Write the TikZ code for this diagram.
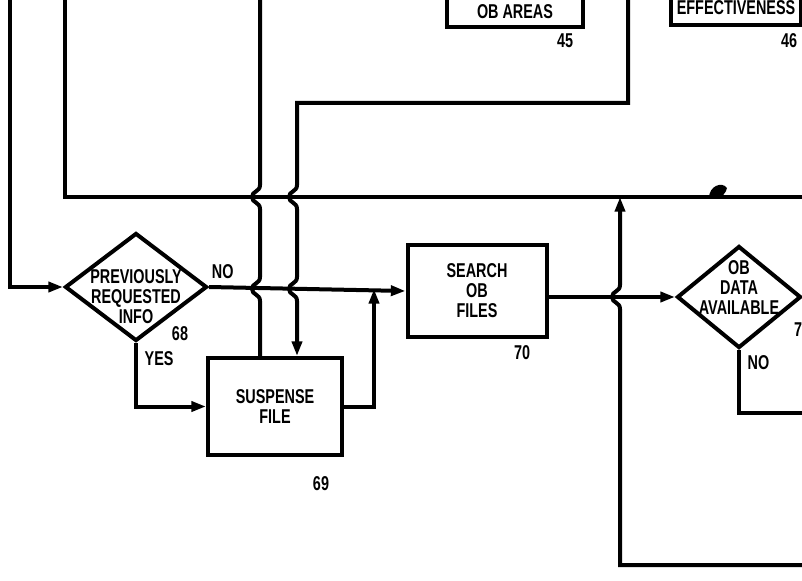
\documentclass[tikz,border=0pt]{standalone}
\usepackage{fontspec}
\setmainfont{Liberation Sans}[FakeStretch=0.72]
\usetikzlibrary{arrows.meta, positioning, shapes.geometric}

\begin{document}
\begin{tikzpicture}[
  x=0.75pt, y=-0.75pt,
  every node/.style={font=\bfseries\fontsize{15}{15}\selectfont},
  decision/.style={diamond, draw, line width=3pt, inner sep=0pt},
  process/.style={rectangle, draw, line width=3pt, inner sep=0pt,
                  align=center},
  tag/.style={inner sep=0pt},
  flow/.style={line width=3pt},
  arr/.style={flow, -{Triangle[length=11pt, width=7.5pt]}},
  hop/.style 2 args={insert path={-- (#1,#2-12)
      .. controls (#1,#2-5) and (#1-8,#2-6) .. (#1-8,#2)
      .. controls (#1-8,#2+6) and (#1,#2+5) .. (#1,#2+12)}},
  hopup/.style 2 args={insert path={-- (#1,#2+12)
      .. controls (#1,#2+5) and (#1-8,#2+6) .. (#1-8,#2)
      .. controls (#1-8,#2-6) and (#1,#2-5) .. (#1,#2-12)}}
]
\useasboundingbox (0,0) rectangle (802,581);
\clip (0,0) rectangle (802,581);
% boxes cut by the upper edge
\node[process, minimum width=102pt, minimum height=22.5pt] (areas) at (515,12)
  {OB AREAS};
\node[tag] (n45) at (565,41) {45};
\node[process, minimum width=97pt, minimum height=25.5pt] (effect) at (736,8)
  {EFFECTIVENESS};
\node[tag] (n46) at (789,41) {46};
% decisions and processes
\node[decision, minimum width=106.5pt, minimum height=81pt,
  label={[align=center, yshift=-7pt]center:PREVIOUSLY\\REQUESTED\\INFO}]
  (prev) at (136,287) {};
\node[tag] (n68) at (180,334) {68};
\node[process, minimum width=100.5pt, minimum height=72.75pt] (suspense)
  at (275,406.5) {SUSPENSE\\FILE};
\node[tag] (n69) at (321,484) {69};
\node[process, minimum width=104.25pt, minimum height=69pt] (search)
  at (477,291) {SEARCH\\OB\\FILES};
\node[tag] (n70) at (522,353) {70};
\node[decision, minimum width=93pt, minimum height=76.5pt,
  label={[align=center, yshift=7pt]center:OB\\DATA\\AVAILABLE}]
  (obdata) at (739,297) {};
\node[tag] (n71) at (798,330) {7};
% free ends
\coordinate (inA) at (10,0);
\coordinate (inB) at (65,0);
\coordinate (outB) at (802,197);
\coordinate (upC) at (260,0);
\coordinate (inD) at (628,0);
\coordinate (bendD) at (297,103);
\coordinate (join1) at (374,289);
\coordinate (outE) at (802,413);
\coordinate (inF) at (802,565);
\coordinate (join2) at (620,197);
% connectors
\draw[arr] (inA) |- (prev.west);
\draw[flow] (inB) |- (outB);
\draw[flow] (upC) [hop={260}{197}] [hop={260}{289}] -- (upC |- suspense.north);
\draw[arr] (inD) |- (bendD) [hop={297}{197}] [hop={297}{289}]
  -- (bendD |- suspense.north);
\draw[arr] (prev.east) -- (search.west)
  node[tag, pos=0.07, above, yshift=5pt] (no1) {NO};
\draw[arr] (prev.south) |- (suspense.west)
  node[tag, pos=0.12, right, xshift=5pt] (yes1) {YES};
\draw[arr] (suspense.east) -| (join1);
\draw[arr] (search.east |- obdata.west) -- (obdata.west);
\draw[flow] (obdata.south) |- (outE)
  node[tag, pos=0.1, right, xshift=5pt] (no2) {NO};
\draw[arr] (inF) -- (620,565) [hopup={620}{297}] -- (join2);
% ink blot on the upper line
\fill (709,198) .. controls (709,186) and (722,181) .. (727,188)
  .. controls (726,193) and (722,196) .. (720,198) -- cycle;
\end{tikzpicture}
\end{document}
